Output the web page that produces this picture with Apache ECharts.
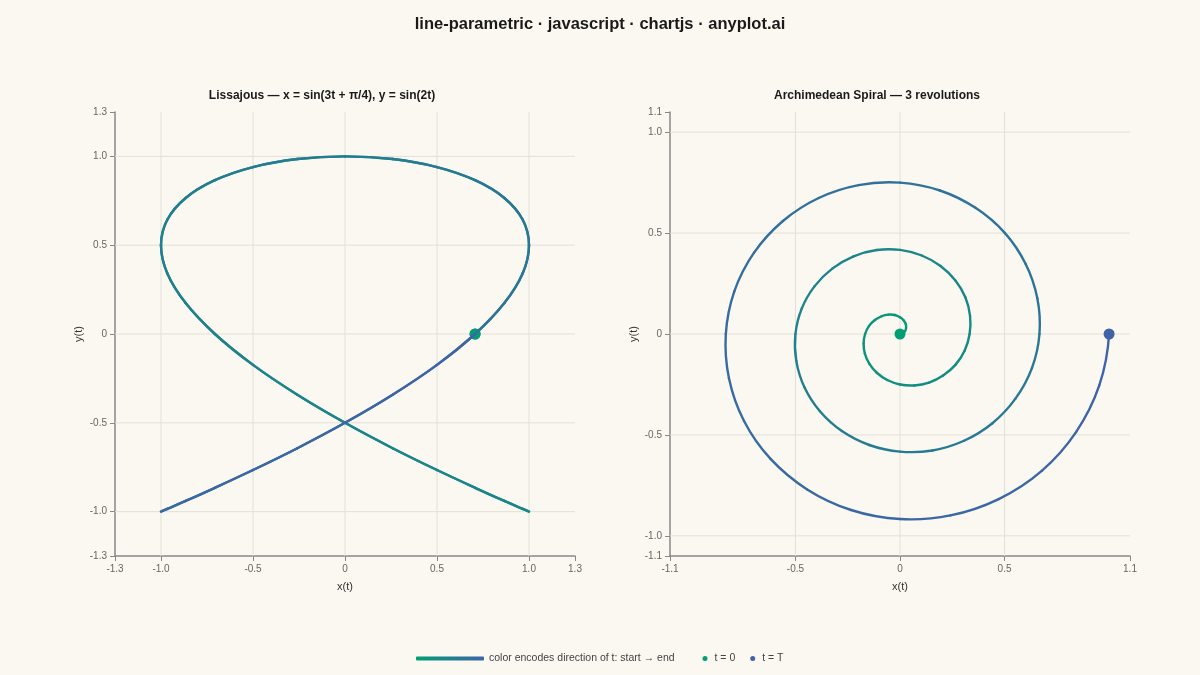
<!DOCTYPE html>
<html>
<head>
<meta charset="utf-8">
<script src="https://cdn.jsdelivr.net/npm/echarts@6.0.0/dist/echarts.min.js"></script>
<style>
html, body { margin: 0; padding: 0; background: #FAF8F1; }
#main { width: 1200px; height: 675px; }
</style>
</head>
<body>
<div id="main"></div>
<script type="text/javascript">
// Lissajous samples, equal steps in t
var lissX = [
	0.707, 0.866, 0.966, 1, 0.966, 0.866, 0.707, 0.5, 0.259, 0,
	-0.259, -0.5, -0.707, -0.866, -0.966, -1, -0.966, -0.866, -0.707, -0.5,
	-0.259, 0, 0.259, 0.5, 0.707, 0.866, 0.966, 1, 0.966, 0.866,
	0.707, 0.5, 0.259, 0, -0.259, -0.5, -0.707, -0.866, -0.966, -1,
	-0.966, -0.866, -0.707, -0.5, -0.259, 0, 0.259, 0.5, 0.707, 0.866,
	0.966, 1, 0.966, 0.866, 0.707, 0.5, 0.259, 0, -0.259, -0.5,
	-0.707, -0.866, -0.966, -1, -0.966, -0.866, -0.707, -0.5, -0.259, 0,
	0.259, 0.5, 0.707
];
var lissY = [
	0, 0.174, 0.342, 0.5, 0.643, 0.766, 0.866, 0.94, 0.985, 1,
	0.985, 0.94, 0.866, 0.766, 0.643, 0.5, 0.342, 0.174, 0, -0.174,
	-0.342, -0.5, -0.643, -0.766, -0.866, -0.94, -0.985, -1, -0.985, -0.94,
	-0.866, -0.766, -0.643, -0.5, -0.342, -0.174, 0, 0.174, 0.342, 0.5,
	0.643, 0.766, 0.866, 0.94, 0.985, 1, 0.985, 0.94, 0.866, 0.766,
	0.643, 0.5, 0.342, 0.174, 0, -0.174, -0.342, -0.5, -0.643, -0.766,
	-0.866, -0.94, -0.985, -1, -0.985, -0.94, -0.866, -0.766, -0.643, -0.5,
	-0.342, -0.174, 0
];
// Archimedean spiral samples, 3 turns
var spiralX = [
	0, 0.013, 0.024, 0.029, 0.028, 0.018, 0, -0.025, -0.056, -0.088,
	-0.12, -0.148, -0.167, -0.174, -0.168, -0.147, -0.111, -0.061, 0, 0.068,
	0.139, 0.206, 0.265, 0.309, 0.333, 0.335, 0.313, 0.265, 0.194, 0.104,
	0, -0.111, -0.222, -0.324, -0.409, -0.47, -0.5, -0.496, -0.457, -0.383,
	-0.278, -0.147, 0, 0.155, 0.306, 0.442, 0.553, 0.631, 0.667, 0.657,
	0.601, 0.501, 0.361, 0.191, 0, -0.198, -0.389, -0.56, -0.698, -0.792,
	-0.833, -0.818, -0.746, -0.619, -0.444, -0.234, 0, 0.241, 0.472, 0.678,
	0.842, 0.953, 1
];
var spiralY = [
	0, 0.004, 0.014, 0.029, 0.048, 0.067, 0.083, 0.094, 0.096, 0.088,
	0.069, 0.04, 0, -0.047, -0.097, -0.147, -0.192, -0.228, -0.25, -0.255,
	-0.241, -0.206, -0.153, -0.083, 0, 0.09, 0.181, 0.265, 0.337, 0.389,
	0.417, 0.416, 0.385, 0.324, 0.236, 0.126, 0, -0.133, -0.264, -0.383,
	-0.481, -0.55, -0.583, -0.577, -0.529, -0.442, -0.319, -0.169, 0, 0.176,
	0.347, 0.501, 0.625, 0.711, 0.75, 0.738, 0.674, 0.56, 0.403, 0.212,
	0, -0.219, -0.431, -0.619, -0.77, -0.872, -0.917, -0.899, -0.818, -0.678,
	-0.486, -0.255, 0
];

// ticks and grid lines
var lissRange = [-1.25, 1.25];
var lissTicks = [-1.25, -1, -0.5, 0, 0.5, 1, 1.25];
var lissGridVals = [-1, -0.5, 0, 0.5, 1];
var spiralRange = [-1.1, 1.1];
var spiralXTicks = [-1.1, -0.5, 0, 0.5, 1.1];
var spiralYTicks = [-1.1, -1, -0.5, 0, 0.5, 1, 1.1];
var spiralXGridVals = [-0.5, 0, 0.5];
var spiralYGridVals = [-1, -0.5, 0, 0.5, 1];

var START = [0, 158, 115];
var END = [64, 99, 168];
var FONT = '"Liberation Sans", Arial, sans-serif';
var curveName = 'color encodes direction of t: start → end';

function hex(c) {
	return 'rgb(' + c.join(',') + ')';
}
function mix(f) {
	return hex(START.map(function (s, j) { return Math.round(s + (END[j] - s) * f); }));
}
function fmt(v) {
	return v === 0 ? '0' : v.toFixed(1);
}

// one item per segment: p1, p2, previous, next-next, position in t
// (at the two ends the missing neighbour is extended from the last three samples)
function segments(xs, ys) {
	var n = xs.length, out = [];
	for (var i = 0; i < n - 1; i++) {
		var px, py, nx, ny;
		if (i > 0) { px = xs[i - 1]; py = ys[i - 1]; }
		else { px = 3 * xs[0] - 3 * xs[1] + xs[2]; py = 3 * ys[0] - 3 * ys[1] + ys[2]; }
		if (i + 2 < n) { nx = xs[i + 2]; ny = ys[i + 2]; }
		else { nx = 3 * xs[n - 1] - 3 * xs[n - 2] + xs[n - 3]; ny = 3 * ys[n - 1] - 3 * ys[n - 2] + ys[n - 3]; }
		out.push([xs[i], ys[i], xs[i + 1], ys[i + 1], px, py, nx, ny, (i + 0.5) / (n - 1)]);
	}
	return out;
}

function renderSeg(params, api) {
	var p1 = api.coord([api.value(0), api.value(1)]);
	var p2 = api.coord([api.value(2), api.value(3)]);
	var p0 = api.coord([api.value(4), api.value(5)]);
	var p3 = api.coord([api.value(6), api.value(7)]);
	return {
		type: 'bezierCurve',
		shape: {
			x1: p1[0], y1: p1[1], x2: p2[0], y2: p2[1],
			cpx1: p1[0] + (p2[0] - p0[0]) / 6, cpy1: p1[1] + (p2[1] - p0[1]) / 6,
			cpx2: p2[0] - (p3[0] - p1[0]) / 6, cpy2: p2[1] - (p3[1] - p1[1]) / 6
		},
		style: { stroke: mix(api.value(8)), lineWidth: 2.4, fill: 'none', lineCap: 'round' }
	};
}

function renderGridLine(params, api) {
	var a = api.coord([api.value(0), api.value(1)]);
	var b = api.coord([api.value(2), api.value(3)]);
	return {
		type: 'line',
		shape: { x1: a[0], y1: a[1], x2: b[0], y2: b[1] },
		style: { stroke: '#E3E0D8', lineWidth: 1 }
	};
}

function axis(gridIndex, range, ticks, name, isY) {
	return {
		type: 'value',
		gridIndex: gridIndex,
		min: range[0],
		max: range[1],
		name: name,
		nameLocation: 'middle',
		nameGap: isY ? 31 : 25,
		nameRotate: isY ? 90 : 0,
		nameTextStyle: { color: '#333', fontSize: 11, fontFamily: FONT },
		axisLine: { show: true, onZero: false, lineStyle: { color: '#888', width: 1.5 } },
		axisTick: { show: true, customValues: ticks, length: 5, lineStyle: { color: '#888' } },
		axisLabel: { customValues: ticks, formatter: fmt, color: '#666', fontSize: 10, margin: 8, fontFamily: FONT },
		splitLine: { show: false }
	};
}

function gridLines(idx, range, xs, ys) {
	var data = xs.map(function (v) { return [v, range[0], v, range[1]]; })
		.concat(ys.map(function (v) { return [range[0], v, range[1], v]; }));
	return {
		type: 'custom', xAxisIndex: idx, yAxisIndex: idx, z: 1, silent: true,
		renderItem: renderGridLine, encode: { x: 0, y: 1 }, data: data
	};
}

function dot(idx, name, x, y, color) {
	return {
		type: 'scatter', name: name, xAxisIndex: idx, yAxisIndex: idx, z: 2,
		symbolSize: 11, data: [[x, y]], itemStyle: { color: color, opacity: 1 },
		emphasis: { disabled: true }
	};
}

function curve(idx, xs, ys) {
	return {
		type: 'custom', name: curveName, xAxisIndex: idx, yAxisIndex: idx, z: 3,
		renderItem: renderSeg, encode: { x: 0, y: 1 },
		itemStyle: { color: { type: 'linear', x: 0, y: 0, x2: 1, y2: 0, colorStops: [{ offset: 0, color: hex(START) }, { offset: 1, color: hex(END) }] } },
		data: segments(xs, ys)
	};
}

var myChart = echarts.init(document.getElementById('main'));
var last = lissX.length - 1, lastS = spiralX.length - 1;
var option = {
	backgroundColor: '#FAF8F1',
	animation: false,
	textStyle: { fontFamily: FONT },
	title: [
		{ text: 'line-parametric · javascript · chartjs · anyplot.ai', left: 'center', top: 16, padding: 0,
			textStyle: { fontSize: 16.5, fontWeight: 'bold', color: '#1a1a1a', fontFamily: FONT } },
		{ text: 'Lissajous — x = sin(3t + π/4), y = sin(2t)', left: 322, top: 90, padding: 0, textAlign: 'center',
			textStyle: { fontSize: 12, fontWeight: 'bold', color: '#1a1a1a', fontFamily: FONT } },
		{ text: 'Archimedean Spiral — 3 revolutions', left: 877, top: 90, padding: 0, textAlign: 'center',
			textStyle: { fontSize: 12, fontWeight: 'bold', color: '#1a1a1a', fontFamily: FONT } }
	],
	legend: [
		{ data: [{ name: curveName, icon: 'roundRect' }], left: 416, top: 653, padding: 0,
			itemWidth: 68, itemHeight: 4, selectedMode: false,
			textStyle: { color: '#444', fontSize: 10.5, fontFamily: FONT } },
		{ data: ['t = 0', 't = T'], left: 702.5, top: 653, padding: 0, icon: 'circle',
			itemWidth: 9, itemHeight: 5, itemGap: 15, selectedMode: false,
			textStyle: { color: '#444', fontSize: 10.5, fontFamily: FONT } }
	],
	grid: [
		{ left: 115, right: 625, top: 112, bottom: 119, outerBoundsMode: 'none' },
		{ left: 670, right: 70, top: 112, bottom: 119, outerBoundsMode: 'none' }
	],
	xAxis: [
		axis(0, lissRange, lissTicks, 'x(t)', false),
		axis(1, spiralRange, spiralXTicks, 'x(t)', false)
	],
	yAxis: [
		axis(0, lissRange, lissTicks, 'y(t)', true),
		axis(1, spiralRange, spiralYTicks, 'y(t)', true)
	],
	series: [
		gridLines(0, lissRange, lissGridVals, lissGridVals),
		gridLines(1, spiralRange, spiralXGridVals, spiralYGridVals),
		dot(0, 't = T', lissX[last], lissY[last], hex(END)),
		dot(0, 't = 0', lissX[0], lissY[0], hex(START)),
		dot(1, 't = T', spiralX[lastS], spiralY[lastS], hex(END)),
		dot(1, 't = 0', spiralX[0], spiralY[0], hex(START)),
		curve(0, lissX, lissY),
		curve(1, spiralX, spiralY)
	]
};
myChart.setOption(option);
</script>
</body>
</html>
